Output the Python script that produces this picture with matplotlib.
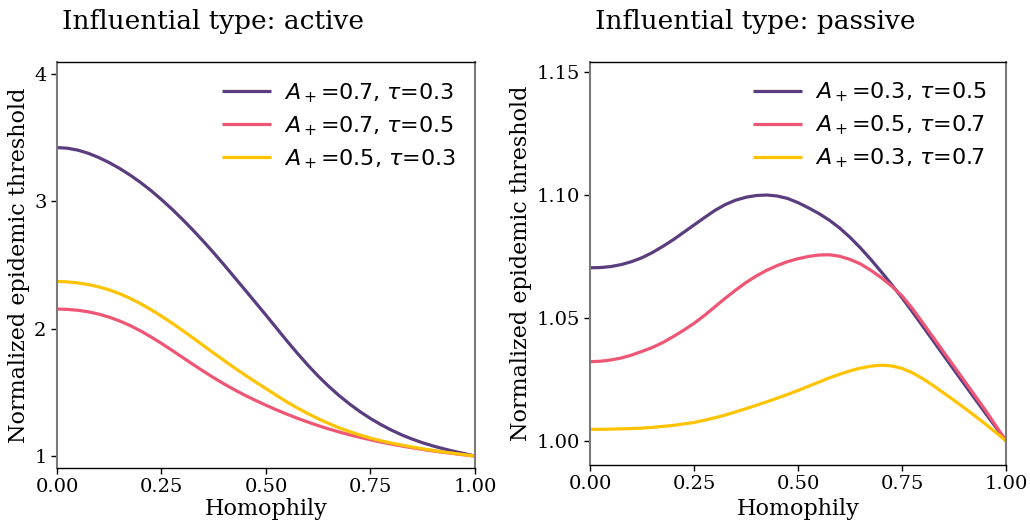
import matplotlib
matplotlib.use("Agg")
import matplotlib.pyplot as plt

homophily = [0.000, 0.025, 0.050, 0.075, 0.100, 0.125, 0.150, 0.175, 0.200, 0.225,
             0.250, 0.275, 0.300, 0.325, 0.350, 0.375, 0.400, 0.425, 0.450, 0.475,
             0.500, 0.525, 0.550, 0.575, 0.600, 0.625, 0.650, 0.675, 0.700, 0.725,
             0.750, 0.775, 0.800, 0.825, 0.850, 0.875, 0.900, 0.925, 0.950, 0.975, 1.000]

# Influential type: active
active_a07_t03 = [3.423, 3.418, 3.403, 3.378, 3.345, 3.305, 3.259, 3.207, 3.149, 3.085,
                  3.015, 2.940, 2.860, 2.776, 2.688, 2.596, 2.501, 2.403, 2.305, 2.206,
                  2.107, 2.006, 1.905, 1.808, 1.715, 1.628, 1.548, 1.475, 1.409, 1.349,
                  1.295, 1.247, 1.204, 1.166, 1.133, 1.104, 1.079, 1.057, 1.037, 1.019, 1.000]
active_a07_t05 = [2.155, 2.152, 2.145, 2.133, 2.115, 2.091, 2.061, 2.025, 1.983, 1.936,
                  1.885, 1.831, 1.776, 1.721, 1.667, 1.615, 1.566, 1.520, 1.477, 1.437,
                  1.399, 1.363, 1.329, 1.297, 1.267, 1.239, 1.213, 1.189, 1.167, 1.147,
                  1.128, 1.110, 1.094, 1.079, 1.065, 1.052, 1.040, 1.029, 1.019, 1.009, 1.000]
active_a05_t03 = [2.372, 2.368, 2.360, 2.347, 2.329, 2.305, 2.275, 2.239, 2.197, 2.150,
                  2.099, 2.045, 1.988, 1.929, 1.869, 1.809, 1.750, 1.692, 1.636, 1.582,
                  1.530, 1.477, 1.425, 1.378, 1.334, 1.293, 1.256, 1.222, 1.192, 1.165,
                  1.141, 1.120, 1.102, 1.086, 1.071, 1.057, 1.044, 1.032, 1.021, 1.010, 1.000]

# Influential type: passive
passive_a03_t05 = [1.0704, 1.0705, 1.0709, 1.0717, 1.0729, 1.0745, 1.0766, 1.0791, 1.0818, 1.0848,
                   1.0878, 1.0908, 1.0937, 1.0961, 1.0979, 1.0991, 1.0998, 1.1000, 1.0996, 1.0986,
                   1.0969, 1.0948, 1.0925, 1.0898, 1.0866, 1.0828, 1.0785, 1.0738, 1.0688, 1.0636,
                   1.0582, 1.0525, 1.0466, 1.0407, 1.0348, 1.0289, 1.0230, 1.0172, 1.0114, 1.0057, 1.0000]
passive_a05_t07 = [1.0322, 1.0324, 1.0329, 1.0337, 1.0349, 1.0364, 1.0380, 1.0400, 1.0424, 1.0450,
                   1.0478, 1.0510, 1.0545, 1.0580, 1.0613, 1.0644, 1.0671, 1.0694, 1.0713, 1.0729,
                   1.0741, 1.0750, 1.0756, 1.0757, 1.0751, 1.0738, 1.0720, 1.0694, 1.0664, 1.0630,
                   1.0590, 1.0538, 1.0480, 1.0421, 1.0362, 1.0303, 1.0244, 1.0185, 1.0126, 1.0063, 1.0000]
passive_a03_t07 = [1.0047, 1.0047, 1.0048, 1.0049, 1.0050, 1.0052, 1.0055, 1.0059, 1.0063, 1.0069,
                   1.0075, 1.0084, 1.0094, 1.0105, 1.0118, 1.0131, 1.0145, 1.0159, 1.0174, 1.0189,
                   1.0205, 1.0222, 1.0239, 1.0256, 1.0271, 1.0285, 1.0296, 1.0304, 1.0308, 1.0305,
                   1.0295, 1.0277, 1.0253, 1.0225, 1.0195, 1.0165, 1.0134, 1.0102, 1.0069, 1.0035, 1.0000]

active_labels = [r"$A_+$=0.7, $\tau$=0.3", r"$A_+$=0.7, $\tau$=0.5", r"$A_+$=0.5, $\tau$=0.3"]
passive_labels = [r"$A_+$=0.3, $\tau$=0.5", r"$A_+$=0.5, $\tau$=0.7", r"$A_+$=0.3, $\tau$=0.7"]
colors = ["#5a3d7f", "#ef5675", "#ffc300"]
titles = ["Influential type: active", "Influential type: passive"]
xticks = [0.00, 0.25, 0.50, 0.75, 1.00]
yticks_active = [1, 2, 3, 4]
yticks_passive = [1.00, 1.05, 1.10, 1.15]

fig = plt.figure(figsize=(10.30, 5.21), dpi=100)
ax1 = fig.add_axes([0.0553, 0.1017, 0.4058, 0.7790])
ax2 = fig.add_axes([0.5728, 0.1075, 0.4039, 0.7735])

panels = [
    (ax1, [active_a07_t03, active_a07_t05, active_a05_t03], active_labels, titles[0],
     yticks_active, "%d", (0.906, 4.094), 1.2),
    (ax2, [passive_a03_t05, passive_a05_t07, passive_a03_t07], passive_labels, titles[1],
     yticks_passive, "%.2f", (0.9902, 1.1541), 3.5),
]

for ax, series, labels, title, yticks, fmt, ylim, xpad in panels:
    for ys, lab, c in zip(series, labels, colors):
        ax.plot(homophily, ys, color=c, lw=2.3, label=lab, solid_capstyle="butt",
                solid_joinstyle="round")
    ax.set_xlim(0, 1)
    ax.set_ylim(*ylim)
    ax.set_xticks(xticks)
    ax.set_xticklabels(["%.2f" % t for t in xticks], family="DejaVu Serif", fontsize=14)
    ax.set_yticks(yticks)
    ax.set_yticklabels([fmt % t for t in yticks], family="DejaVu Serif", fontsize=14)
    ax.set_xlabel("Homophily", family="DejaVu Serif", fontsize=16, labelpad=xpad)
    ax.set_ylabel("Normalized epidemic threshold", family="DejaVu Serif", fontsize=16, labelpad=3)
    ax.set_title(title, loc="left", family="DejaVu Serif", fontsize=19, pad=24, x=0.012)
    for side in ["left", "right"]:
        ax.spines[side].set_color("#7a7a7a")
        ax.spines[side].set_linewidth(1.5)
    for side in ["top", "bottom"]:
        ax.spines[side].set_color("black")
        ax.spines[side].set_linewidth(1.0)
    ax.tick_params(length=4, width=1, color="black")
    ax.legend(loc="upper right", frameon=False, fontsize=16, handlelength=2.2,
              handletextpad=0.6, labelspacing=0.42, borderaxespad=0.45)

fig.savefig("out.png", dpi=100)
